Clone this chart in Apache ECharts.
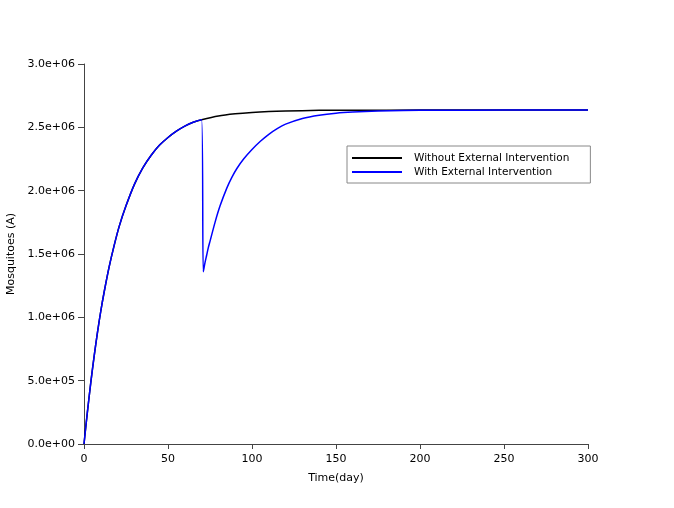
<!DOCTYPE html>
<html>
<head>
<meta charset="utf-8">
<style>
  html, body { margin: 0; padding: 0; background: #fff; }
  #chart { width: 674px; height: 508px; }
</style>
<script src="https://cdn.jsdelivr.net/npm/echarts@6/dist/echarts.min.js"></script>
</head>
<body>
<div id="chart"></div>
<script>
// time in days, adult mosquitoes in millions
var timeWithout = [0, 2, 4, 6, 8, 10, 12, 15, 18, 21, 25, 30, 35, 40, 45, 50, 55, 60, 65, 70,
  80, 90, 100, 110, 120, 140, 160, 200, 250, 300]
var mosqWithout = [0, 0.25, 0.48, 0.69, 0.88, 1.05, 1.2, 1.4, 1.57, 1.72, 1.88, 2.05, 2.18, 2.28, 2.36, 2.42, 2.47, 2.51, 2.54, 2.56,
  2.59, 2.607, 2.618, 2.625, 2.629, 2.634, 2.635, 2.636, 2.636, 2.636]

var timeWith = [0, 2, 4, 6, 8, 10, 12, 15, 18, 21, 25, 30, 35, 40, 45, 50, 55, 60, 65, 70,
  71, 72, 73, 74, 75, 78, 81, 85, 88, 91, 95, 100, 105, 110, 115, 120, 130, 140, 150, 160, 175, 190, 210, 250, 300]
var mosqWith = [0, 0.25, 0.48, 0.69, 0.88, 1.05, 1.2, 1.4, 1.57, 1.72, 1.88, 2.05, 2.18, 2.28, 2.36, 2.42, 2.47, 2.51, 2.54, 2.56,
  1.36, 1.43, 1.49, 1.55, 1.60, 1.75, 1.88, 2.02, 2.105, 2.175, 2.25, 2.325, 2.39, 2.445, 2.49, 2.525, 2.57, 2.596, 2.612, 2.621, 2.629, 2.633, 2.635, 2.636, 2.636]

var seriesNames = ['Without External Intervention', 'With External Intervention']
var yTickLabels = ['0.0e+00', '5.0e+05', '1.0e+06', '1.5e+06', '2.0e+06', '2.5e+06', '3.0e+06']

function pairs(ts, vs) {
  return ts.map(function(t, i) { return [t, vs[i] * 1e6] })
}

var font = 'DejaVu Sans'
var axisColor = '#444'

var chart = echarts.init(document.getElementById('chart'))
chart.setOption({
  animation: false,
  grid: {
    left: 84,
    right: 86,
    top: 64,
    bottom: 64,
    containLabel: false,
    outerBoundsMode: 'none'
  },
  xAxis: {
    type: 'value',
    min: 0,
    max: 300,
    interval: 50,
    name: 'Time(day)',
    nameLocation: 'middle',
    nameGap: 29,
    nameTextStyle: { color: '#000', fontFamily: font, fontSize: 11 },
    axisLine: { show: true, lineStyle: { color: axisColor, width: 1 } },
    axisTick: { show: true, length: 5, lineStyle: { color: axisColor } },
    axisLabel: { color: '#000', fontFamily: font, fontSize: 11, margin: 10 },
    splitLine: { show: false }
  },
  yAxis: {
    type: 'value',
    min: 0,
    max: 3e6,
    interval: 5e5,
    name: 'Mosquitoes (A)',
    nameLocation: 'middle',
    nameGap: 67,
    nameTextStyle: { color: '#000', fontFamily: font, fontSize: 11 },
    axisLine: { show: true, lineStyle: { color: axisColor, width: 1 } },
    axisTick: { show: true, length: 6, lineStyle: { color: axisColor } },
    axisLabel: {
      color: '#000',
      fontFamily: font,
      fontSize: 11,
      margin: 9,
      formatter: function(v) {
        return yTickLabels[Math.round(v / 5e5)]
      }
    },
    splitLine: { show: false }
  },
  legend: {
    orient: 'vertical',
    left: 347,
    top: 146,
    padding: [6, 21, 5, 5],
    itemGap: 2,
    itemWidth: 50,
    itemHeight: 2,
    icon: 'rect',
    borderColor: '#888',
    borderWidth: 1,
    textStyle: { color: '#000', fontFamily: font, fontSize: 10.5, padding: [0, 0, 0, 7], lineHeight: 12 },
    data: seriesNames
  },
  series: [
    {
      name: seriesNames[0],
      type: 'line',
      showSymbol: false,
      smooth: 0.3,
      data: pairs(timeWithout, mosqWithout),
      color: '#000',
      lineStyle: { color: '#000', width: 1.5 }
    },
    {
      name: seriesNames[1],
      type: 'line',
      showSymbol: false,
      smooth: 0.3,
      data: pairs(timeWith, mosqWith),
      color: '#0000ff',
      lineStyle: { color: '#0000ff', width: 1.5 }
    }
  ]
})
</script>
</body>
</html>
